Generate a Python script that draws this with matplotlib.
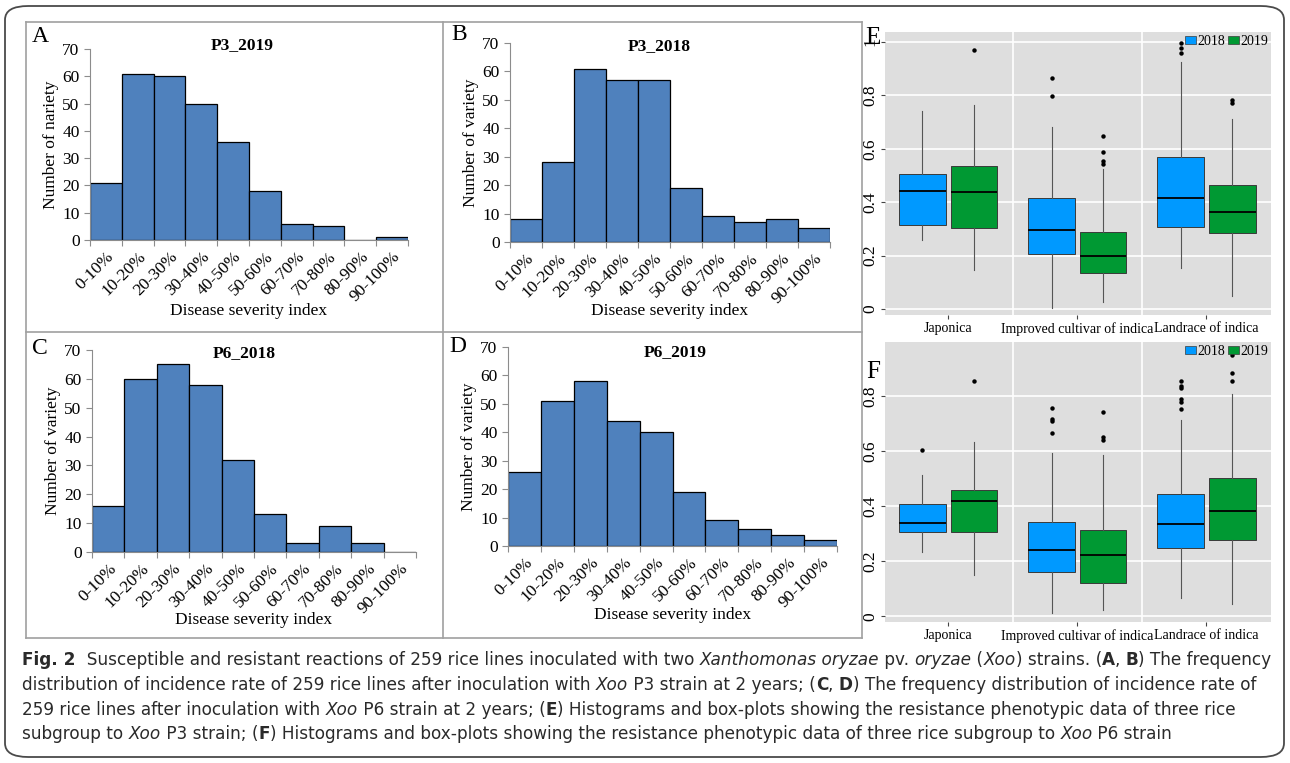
import matplotlib
matplotlib.use('Agg')
import matplotlib.pyplot as plt
from matplotlib import font_manager
from matplotlib.patches import FancyBboxPatch, Patch
from matplotlib.lines import Line2D
import numpy as np

# --- histogram data (number of varieties per severity class) ---
classes = ['0-10%', '10-20%', '20-30%', '30-40%', '40-50%',
           '50-60%', '60-70%', '70-80%', '80-90%', '90-100%']
p3_2019 = [21, 61, 60, 50, 36, 18, 6, 5, 0, 1]
p3_2018 = [8, 28, 61, 57, 57, 19, 9, 7, 8, 5]
p6_2018 = [16, 60, 65, 58, 32, 13, 3, 9, 3, 0]
p6_2019 = [26, 51, 58, 44, 40, 19, 9, 6, 4, 2]

# --- boxplot data (subgroups x year) ---
groups = ['Japonica', 'Improved cultivar of indica', 'Landrace of indica']
years = ['2018', '2019']

# panel E (P3)
E2018_lo = [0.257, 0.003, 0.154]
E2018_q1 = [0.313, 0.206, 0.307]
E2018_med = [0.443, 0.297, 0.416]
E2018_q3 = [0.506, 0.414, 0.569]
E2018_hi = [0.740, 0.680, 0.924]
E2018_out = [[], [0.863, 0.798], [0.994, 0.976, 0.959]]
E2019_lo = [0.146, 0.027, 0.049]
E2019_q1 = [0.305, 0.134, 0.285]
E2019_med = [0.437, 0.199, 0.362]
E2019_q3 = [0.536, 0.288, 0.466]
E2019_hi = [0.765, 0.524, 0.713]
E2019_out = [[0.970], [0.648, 0.588, 0.553, 0.544], [0.781, 0.773]]

# panel F (P6)
F2018_lo = [0.235, 0.013, 0.068]
F2018_q1 = [0.306, 0.162, 0.247]
F2018_med = [0.340, 0.240, 0.334]
F2018_q3 = [0.406, 0.343, 0.444]
F2018_hi = [0.512, 0.591, 0.712]
F2018_out = [[0.603], [0.755, 0.715, 0.709, 0.665],
             [0.852, 0.834, 0.828, 0.787, 0.776, 0.751]]
F2019_lo = [0.152, 0.024, 0.044]
F2019_q1 = [0.306, 0.120, 0.276]
F2019_med = [0.419, 0.222, 0.382]
F2019_q3 = [0.460, 0.314, 0.503]
F2019_hi = [0.631, 0.586, 0.805]
F2019_out = [[0.852], [0.742, 0.650, 0.641], [0.948, 0.883, 0.852]]

SERIF = ['Liberation Serif', 'DejaVu Serif']
W, H = 1290, 763
fig = plt.figure(figsize=(W / 100, H / 100), dpi=100)


def px_axes(x0, y0, x1, y1):
    return fig.add_axes([x0 / W, 1 - y1 / H, (x1 - x0) / W, (y1 - y0) / H])


def fig_line(xs, ys, **kw):
    fig.add_artist(Line2D([x / W for x in xs], [1 - y / H for y in ys],
                          transform=fig.transFigure, **kw))


def fig_text(x, y, s, **kw):
    return fig.text(x / W, 1 - y / H, s, ha='center', va='center', **kw)


# frames
fig.add_artist(FancyBboxPatch((5 / W, 1 - 757 / H), 1279 / W, 751 / H,
                              boxstyle='round,pad=0,rounding_size=0.018',
                              transform=fig.transFigure, fill=False,
                              edgecolor='#4a4a4a', lw=1.3))
gcol = '#a0a0a0'
fig_line([26, 862], [22, 22], color=gcol, lw=1.2)
fig_line([26, 862], [332, 332], color=gcol, lw=1.2)
fig_line([26, 862], [638, 638], color=gcol, lw=1.2)
fig_line([26, 26], [22, 638], color=gcol, lw=1.2)
fig_line([443, 443], [22, 638], color=gcol, lw=1.2)
fig_line([862, 862], [22, 638], color=gcol, lw=1.2)


def histogram(box, values, title, title_xy, ylabel, letter, letter_xy, xlabel_y):
    ax = px_axes(*box)
    x = np.arange(len(values)) + 0.5
    ax.bar(x, values, width=1.0, color='#4f81bd', edgecolor='black', lw=0.9)
    ax.set_xlim(0, 10)
    ax.set_ylim(0, 70)
    for s in ['top', 'right']:
        ax.spines[s].set_visible(False)
    for s in ['left', 'bottom']:
        ax.spines[s].set_color('#8c8c8c')
    ax.set_yticks(range(0, 71, 10))
    ax.set_yticklabels([str(v) for v in range(0, 71, 10)], family=SERIF, fontsize=12.5)
    ax.set_xticks(range(0, 11))
    ax.set_xticklabels([])
    ax.set_xticks(x, minor=True)
    ax.set_xticklabels(classes, minor=True, rotation=45, ha='right',
                       rotation_mode='anchor', family=SERIF, fontsize=12.5)
    ax.tick_params(axis='x', which='minor', length=0, pad=6)
    ax.tick_params(axis='both', which='major', length=4, color='#8c8c8c', direction='out')
    ax.set_ylabel(ylabel, family=SERIF, fontsize=12.5, labelpad=2)
    fig_text(title_xy[0], title_xy[1], title, family=SERIF, fontsize=12.5, fontweight='bold')
    fig_text((box[0] + box[2]) / 2, xlabel_y, 'Disease severity index',
             family=SERIF, fontsize=12.5)
    fig_text(letter_xy[0], letter_xy[1], letter, family=SERIF, fontsize=17)
    return ax


histogram((90, 49, 408, 240), p3_2019, 'P3_2019', (242, 45), 'Number of nariety', 'A', (40, 36), 311)
histogram((510, 43, 830, 242), p3_2018, 'P3_2018', (659, 46), 'Number of variety', 'B', (459, 34), 311)
histogram((92, 350, 416, 552), p6_2018, 'P6_2018', (244, 353), 'Number of variety', 'C', (40, 348), 620)
histogram((508, 347, 837, 546), p6_2019, 'P6_2019', (675, 352), 'Number of variety', 'D', (458, 346), 615)

c2018 = '#0099ff'
c2019 = '#009933'


def stats_list(lo, q1, med, q3, hi, out):
    return [dict(whislo=lo[i], q1=q1[i], med=med[i], q3=q3[i], whishi=hi[i],
                 fliers=out[i]) for i in range(len(lo))]


def boxpanel(box, s18, s19, ylim, yticks, ylabels, letter, letter_xy):
    ax = px_axes(*box)
    ax.set_facecolor('#dedede')
    for s in ax.spines.values():
        s.set_visible(False)
    pos = np.arange(1, len(groups) + 1)
    for stats, off, col in [(s18, -0.2, c2018), (s19, 0.2, c2019)]:
        ax.bxp(stats, positions=pos + off, widths=0.36, patch_artist=True,
               showcaps=False, manage_ticks=False,
               boxprops=dict(facecolor=col, edgecolor='#3a3a3a', lw=0.7),
               medianprops=dict(color='black', lw=1.3),
               whiskerprops=dict(color='#555555', lw=0.8),
               flierprops=dict(marker='o', markerfacecolor='black',
                               markeredgecolor='none', markersize=3.2))
    ax.set_xlim(0.51, 3.5)
    ax.set_ylim(*ylim)
    ax.set_yticks(yticks)
    ax.set_yticklabels(ylabels, rotation=90, va='center', family=SERIF, fontsize=12.5)
    ax.set_xticks(pos)
    ax.set_xticklabels(groups, family=SERIF, fontsize=10)
    ax.tick_params(length=3, color='#444444', pad=2)
    ax.set_axisbelow(True)
    ax.grid(axis='y', color='white', lw=1.2)
    for xv in [1.5, 2.5]:
        ax.axvline(xv, color='white', lw=1.2, zorder=0.5)
    handles = [Patch(facecolor=c2018, edgecolor='#3a3a3a', lw=0.5),
               Patch(facecolor=c2019, edgecolor='#3a3a3a', lw=0.5)]
    ax.legend(handles, years, loc='upper right', ncol=2, frameon=False,
              prop=dict(family=SERIF, size=10), handlelength=0.8,
              handleheight=0.5, handletextpad=0.1, columnspacing=0.2,
              borderpad=0.1, borderaxespad=0.1)
    fig_text(letter_xy[0], letter_xy[1], letter, family=SERIF, fontsize=18)
    return ax


boxpanel((885, 32, 1271, 315),
         stats_list(E2018_lo, E2018_q1, E2018_med, E2018_q3, E2018_hi, E2018_out),
         stats_list(E2019_lo, E2019_q1, E2019_med, E2019_q3, E2019_hi, E2019_out),
         (-0.022, 1.037), [0, 0.2, 0.4, 0.6, 0.8, 1.0],
         ['0', '0.2', '0.4', '0.6', '0.8', '1'], 'E', (873, 38))
boxpanel((885, 342, 1271, 622),
         stats_list(F2018_lo, F2018_q1, F2018_med, F2018_q3, F2018_hi, F2018_out),
         stats_list(F2019_lo, F2019_q1, F2019_med, F2019_q3, F2019_hi, F2019_out),
         (-0.02, 0.995), [0, 0.2, 0.4, 0.6, 0.8],
         ['0', '0.2', '0.4', '0.6', '0.8'], 'F', (873, 372))

# --- caption, drawn piecewise for bold / italic runs ---
available = {f.name for f in font_manager.fontManager.ttflist}
cap_family = 'Liberation Sans Narrow' if 'Liberation Sans Narrow' in available else 'DejaVu Sans'

caption = [
    [('Fig. 2', 'bold'), ('  Susceptible and resistant reactions of 259 rice lines inoculated with two ', ''),
     ('Xanthomonas oryzae', 'italic'), (' pv. ', ''), ('oryzae', 'italic'), (' (', ''), ('Xoo', 'italic'),
     (') strains. (', ''), ('A', 'bold'), (', ', ''), ('B', 'bold'), (') The frequency', '')],
    [('distribution of incidence rate of 259 rice lines after inoculation with ', ''), ('Xoo', 'italic'),
     (' P3 strain at 2 years; (', ''), ('C', 'bold'), (', ', ''), ('D', 'bold'),
     (') The frequency distribution of incidence rate of', '')],
    [('259 rice lines after inoculation with ', ''), ('Xoo', 'italic'), (' P6 strain at 2 years; (', ''),
     ('E', 'bold'), (') Histograms and box-plots showing the resistance phenotypic data of three rice', '')],
    [('subgroup to ', ''), ('Xoo', 'italic'), (' P3 strain; (', ''), ('F', 'bold'),
     (') Histograms and box-plots showing the resistance phenotypic data of three rice subgroup to ', ''),
     ('Xoo', 'italic'), (' P6 strain', '')],
]
line_y = [660, 685, 710, 734]
renderer = fig.canvas.get_renderer()


def draw_line(parts, y, size, draw=True):
    x = 22.0
    arts = []
    for txt, style in parts:
        kw = dict(family=cap_family, fontsize=size, va='center', ha='left', color='#2a2a2a')
        if style == 'bold':
            kw['fontweight'] = 'bold'
        if style == 'italic':
            kw['fontstyle'] = 'italic'
        t = fig.text(x / W, 1 - y / H, txt.replace(' ', '\u00a0'), **kw)
        x += t.get_window_extent(renderer).width
        arts.append(t)
    if not draw:
        for t in arts:
            t.remove()
    return x - 22


base = 12
wid = draw_line(caption[0], line_y[0], base, draw=False)
size = base * 1245 / wid
for parts, y in zip(caption, line_y):
    draw_line(parts, y, size)

fig.savefig('out.png', dpi=100)
